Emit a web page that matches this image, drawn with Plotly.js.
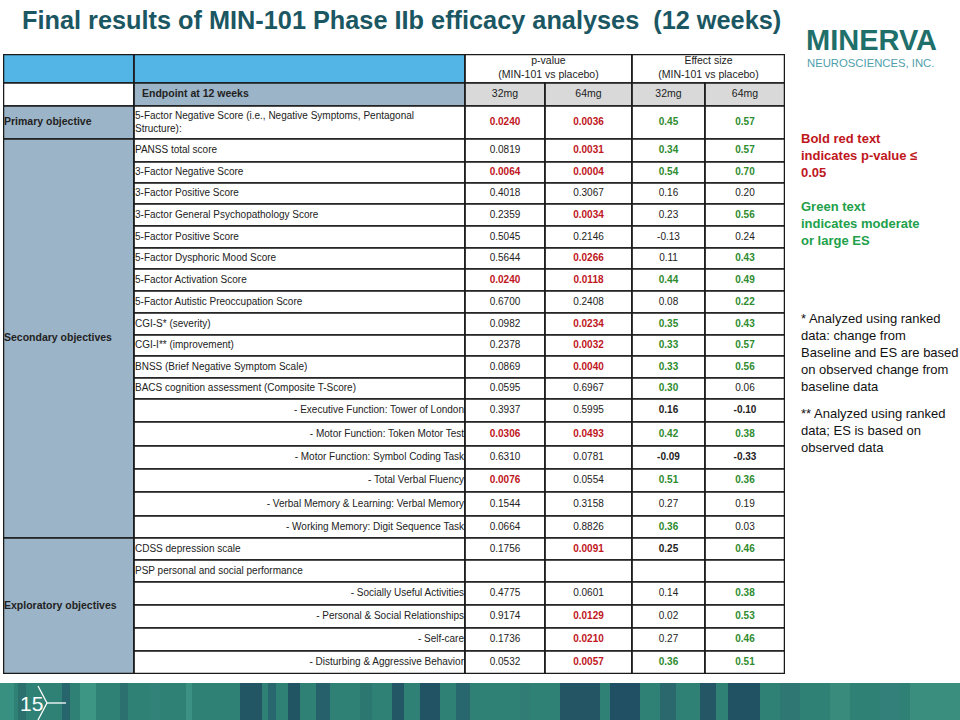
<!DOCTYPE html>
<html><head><meta charset="utf-8">
<script src="https://cdn.plot.ly/plotly-3.0.1.min.js"></script>
<style>html,body{margin:0;padding:0;background:#fff}#chart{width:960px;height:720px}</style>
</head><body><div id="chart"></div>
<script>
// ---------------- DATA ----------------
const groups = ['Primary objective', 'Secondary objectives', 'Exploratory objectives'];
const groupSizes = [1, 18, 6];
const headerTop = ['p-value<br>(MIN-101 vs placebo)', 'Effect size<br>(MIN-101 vs placebo)'];
const headerSub = ['Endpoint at 12 weeks', '32mg', '64mg', '32mg', '64mg'];
const endpoints = [
  '5-Factor Negative Score (i.e., Negative Symptoms, Pentagonal<br>Structure):',
  'PANSS total score',
  '3-Factor Negative Score',
  '3-Factor Positive Score',
  '3-Factor General Psychopathology Score',
  '5-Factor Positive Score',
  '5-Factor Dysphoric Mood Score',
  '5-Factor Activation Score',
  '5-Factor Autistic Preoccupation Score',
  'CGI-S* (severity)',
  'CGI-I** (improvement)',
  'BNSS (Brief Negative Symptom Scale)',
  'BACS cognition assessment (Composite T-Score)',
  '- Executive Function: Tower of London',
  '- Motor Function: Token Motor Test',
  '- Motor Function: Symbol Coding Task',
  '- Total Verbal Fluency',
  '- Verbal Memory & Learning: Verbal Memory',
  '- Working Memory: Digit Sequence Task',
  'CDSS depression scale',
  'PSP personal and social performance',
  '- Socially Useful Activities',
  '- Personal & Social Relationships',
  '- Self-care',
  '- Disturbing & Aggressive Behavior'
];
const p32 = ['0.0240','0.0819','0.0064','0.4018','0.2359','0.5045','0.5644','0.0240','0.6700','0.0982','0.2378','0.0869','0.0595','0.3937','0.0306','0.6310','0.0076','0.1544','0.0664','0.1756','','0.4775','0.9174','0.1736','0.0532'];
const p64 = ['0.0036','0.0031','0.0004','0.3067','0.0034','0.2146','0.0266','0.0118','0.2408','0.0234','0.0032','0.0040','0.6967','0.5995','0.0493','0.0781','0.0554','0.3158','0.8826','0.0091','','0.0601','0.0129','0.0210','0.0057'];
const es32 = ['0.45','0.34','0.54','0.16','0.23','-0.13','0.11','0.44','0.08','0.35','0.33','0.33','0.30','0.16','0.42','-0.09','0.51','0.27','0.36','0.25','','0.14','0.02','0.27','0.36'];
const es64 = ['0.57','0.57','0.70','0.20','0.56','0.24','0.43','0.49','0.22','0.43','0.57','0.56','0.06','-0.10','0.38','-0.33','0.36','0.19','0.03','0.46','','0.38','0.53','0.46','0.51'];
// g = green bold, b = black bold, n = normal
const es32Style = ['g','g','g','n','n','n','n','g','n','g','g','g','g','b','g','b','g','n','g','b','n','n','n','n','g'];
const es64Style = ['g','g','g','n','g','n','g','g','g','g','g','g','n','b','g','b','g','n','n','g','n','g','g','g','g'];

// ---------------- STYLE ----------------
const FONT = 'Liberation Sans, Arial, sans-serif';
const RED = '#c0161c', GREEN = '#2e8b2e', INK = '#222222';
const BLUE = '#53b5e6', GREYBLUE = '#9cb4c7', LIGHTGREY = '#d9d9d9', BORDER = '#1a1a1a';
const colW = [131, 331, 80, 87, 73, 80];
const headH = [29, 23];
const bodyH = [33, 23,21,21,22,22,21,22,22,22,21,22,21, 23,24,23,23,24, 22,22,22,23,23,23,23];
const PL = 3, PT = 54, PR = 175, PB = 46, W = 960, H = 720;

const colX = [0]; colW.forEach(w => colX.push(colX[colX.length - 1] + w));
const tableW = colX[colX.length - 1];
const rowTop = [0]; headH.concat(bodyH).forEach(h => rowTop.push(rowTop[rowTop.length - 1] + h));
const tableH = rowTop[rowTop.length - 1];
const bodyTop = i => rowTop[2 + i], bodyBot = i => rowTop[3 + i];
const bodyMid = i => (bodyTop(i) + bodyBot(i)) / 2;
const cx = (a, b) => (colX[a] + colX[b]) / 2;

// paper coords for decoration outside the table
const ppx = x => (x - PL) / tableW;
const ppy = y => (H - PB - y) / tableH;

const shapes = [];
function cell(c0, c1, r0, r1, fill, lw) {
  shapes.push({type: 'rect', xref: 'x', yref: 'y', x0: colX[c0], x1: colX[c1], y0: rowTop[r0], y1: rowTop[r1],
    fillcolor: fill, line: {color: BORDER, width: lw || 1.7}, layer: 'below'});
}
// header row 1
cell(0, 1, 0, 1, BLUE); cell(1, 2, 0, 1, BLUE); cell(2, 4, 0, 1, '#ffffff'); cell(4, 6, 0, 1, '#ffffff');
// header row 2
cell(0, 1, 1, 2, '#ffffff'); cell(1, 2, 1, 2, GREYBLUE);
for (let c = 2; c < 6; c++) cell(c, c + 1, 1, 2, LIGHTGREY);
// body
let start = 0;
groups.forEach((g, gi) => {
  cell(0, 1, 2 + start, 2 + start + groupSizes[gi], GREYBLUE);
  start += groupSizes[gi];
});
endpoints.forEach((e, i) => { for (let c = 1; c < 6; c++) cell(c, c + 1, 2 + i, 3 + i, '#ffffff'); });
// outer frame
shapes.push({type: 'rect', xref: 'x', yref: 'y', x0: 0, x1: tableW, y0: 0, y1: tableH, line: {color: BORDER, width: 2.5}, layer: 'above'});

// footer banner (decorative texture approximation)
shapes.push({type: 'rect', xref: 'paper', yref: 'paper', x0: ppx(0), x1: ppx(960), y0: ppy(720), y1: ppy(683), fillcolor: '#2f8176', line: {width: 0}, layer: 'below'});
const stripes = [[0,14,'#3a9384'],[18,26,'#2a6d6c'],[62,70,'#24606a'],[80,96,'#3f9a86'],[120,128,'#2b6e6e'],[150,160,'#34837a'],[186,192,'#3d9585'],
  [240,262,'#214f63'],[268,276,'#28636d'],[288,300,'#204e62'],[316,330,'#245a68'],[360,372,'#2d7571'],[392,404,'#225064'],[420,440,'#1f4b62'],
  [456,470,'#28636d'],[520,530,'#317c76'],[560,600,'#214d63'],[610,640,'#1e4862'],[660,676,'#29646d'],[700,716,'#224f63'],[728,760,'#1f4a62'],
  [780,800,'#2e7572'],[830,850,'#3b8d7d'],[880,900,'#33807a'],[910,960,'#3c9180']];
stripes.forEach(s => shapes.push({type: 'rect', xref: 'paper', yref: 'paper', x0: ppx(s[0]), x1: ppx(s[1]), y0: ppy(720), y1: ppy(683), fillcolor: s[2], line: {width: 0}, opacity: 0.85, layer: 'below'}));
// chevron
const seg = (x0, y0, x1, y1) => shapes.push({type: 'line', xref: 'paper', yref: 'paper', x0: ppx(x0), y0: ppy(y0), x1: ppx(x1), y1: ppy(y1), line: {color: '#ffffff', width: 1.3}});
seg(38, 686, 47, 703); seg(47, 703, 38, 720); seg(47, 703, 66, 703);

// ---------------- TEXT TRACES ----------------
const traces = [];
function textTrace(x, y, text, color, pos, size) {
  traces.push({type: 'scatter', mode: 'text', x: x, y: y, text: text, textposition: pos || 'middle center',
    textfont: {family: FONT, size: size || 10, color: color}, hoverinfo: 'skip', showlegend: false, cliponaxis: false});
}
// header row 1
textTrace([cx(2, 4), cx(4, 6)], [rowTop[0] + headH[0] / 2, rowTop[0] + headH[0] / 2], headerTop, INK, 'middle center', 10.5);
// header row 2
textTrace([colX[1] + 8], [rowTop[1] + headH[1] / 2], ['<b>' + headerSub[0] + '</b>'], INK, 'middle right', 10.5);
textTrace([cx(2,3), cx(3,4), cx(4,5), cx(5,6)], Array(4).fill(rowTop[1] + headH[1] / 2), headerSub.slice(1), INK, 'middle center', 10.5);
// group labels
start = 0;
const gx = [], gy = [], gt = [];
groups.forEach((g, gi) => {
  const t = bodyTop(start), b = bodyBot(start + groupSizes[gi] - 1);
  gx.push(1); gy.push((t + b) / 2); gt.push('<b>' + g + '</b>');
  start += groupSizes[gi];
});
textTrace(gx, gy, gt, INK, 'middle right', 10.5);
// endpoints: left-aligned main items, right-aligned sub-items
const lx = [], ly = [], lt = [], rx = [], ry = [], rt = [];
endpoints.forEach((e, i) => {
  if (e.startsWith('- ')) { rx.push(colX[2] - 1); ry.push(bodyMid(i)); rt.push(e); }
  else { lx.push(colX[1] + 1); ly.push(bodyMid(i)); lt.push(e); }
});
textTrace(lx, ly, lt, INK, 'middle right', 10);
textTrace(rx, ry, rt, INK, 'middle left', 10);
// values
const ys = endpoints.map((e, i) => bodyMid(i));
const isSig = v => v !== '' && parseFloat(v) <= 0.05;
[p32, p64].forEach((arr, k) => {
  textTrace(Array(arr.length).fill(cx(2 + k, 3 + k)), ys,
    arr.map(v => isSig(v) ? '<b>' + v + '</b>' : v), arr.map(v => isSig(v) ? RED : INK), 'middle center', 10);
});
[[es32, es32Style], [es64, es64Style]].forEach((pair, k) => {
  const [arr, st] = pair;
  textTrace(Array(arr.length).fill(cx(4 + k, 5 + k)), ys,
    arr.map((v, i) => st[i] === 'n' ? v : '<b>' + v + '</b>'), arr.map((v, i) => st[i] === 'g' ? GREEN : INK), 'middle center', 10);
});

// ---------------- ANNOTATIONS ----------------
const ann = (x, y, text, font, extra) => Object.assign({xref: 'paper', yref: 'paper', x: ppx(x), y: ppy(y), text: text,
  showarrow: false, xanchor: 'left', yanchor: 'top', align: 'left', font: Object.assign({family: FONT}, font)}, extra || {});
const annotations = [
  ann(20, 4, '<b>Final results of MIN-101 Phase IIb efficacy analyses  (12 weeks)</b>', {size: 25.3, color: '#1b5762'}),
  ann(804, 22, '<b>MINERVA</b>', {size: 29, color: '#1f6f6b'}),
  ann(805, 55, 'NEUROSCIENCES, INC.', {size: 11.3, color: '#4fa0ac'}),
  ann(799, 129, '<b>Bold red text<br>indicates p-value ≤<br>0.05</b>', {size: 13, color: RED}),
  ann(799, 197, '<b>Green text<br>indicates moderate<br>or large ES</b>', {size: 13, color: '#22a04a'}),
  ann(799, 309, '* Analyzed using ranked<br>data: change from<br>Baseline and ES are based<br>on observed change from<br>baseline data', {size: 13, color: '#111111'}),
  ann(799, 404, '** Analyzed using ranked<br>data; ES is based on<br>observed data', {size: 13, color: '#111111'}),
  ann(18, 703, '15', {size: 21, color: '#ffffff'}, {yanchor: 'middle'})
];

const layout = {
  width: W, height: H,
  margin: {l: PL, r: PR, t: PT, b: PB, pad: 0},
  paper_bgcolor: '#ffffff', plot_bgcolor: '#ffffff',
  xaxis: {range: [0, tableW], visible: false, fixedrange: true},
  yaxis: {range: [tableH, 0], visible: false, fixedrange: true},
  shapes: shapes, annotations: annotations, showlegend: false,
  font: {family: FONT}
};
Plotly.newPlot('chart', traces, layout, {staticPlot: true, displayModeBar: false});
</script>
</body></html>
